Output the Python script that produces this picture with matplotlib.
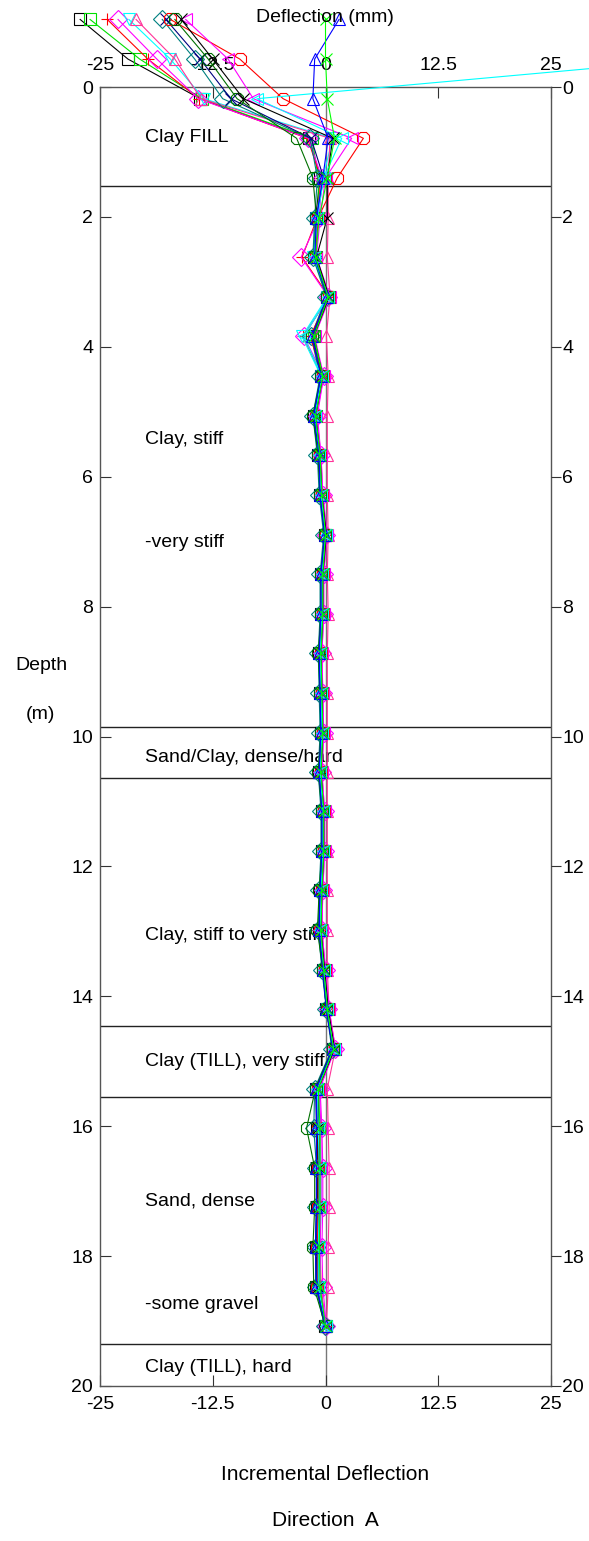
import matplotlib.pyplot as plt
import matplotlib.transforms as mtransforms

plt.rcParams['font.family'] = ['Liberation Sans', 'DejaVu Sans']
plt.rcParams['axes.unicode_minus'] = False

# === Data ===
# reading depths (m), top to bottom
DEPTHS = [-1.04, -0.43, 0.18, 0.79, 1.40, 2.01, 2.62, 3.23, 3.84, 4.45, 5.06, 5.67,
          6.28, 6.89, 7.50, 8.11, 8.72, 9.33, 9.94, 10.55, 11.15, 11.76, 12.37,
          12.98, 13.59, 14.20, 14.81, 15.42, 16.03, 16.64, 17.25, 17.86, 18.47, 19.08]

# incremental deflection (mm) per survey; first 5 values = upper readings, rest = depth profile
s_black_sq = [-27.2, -21.9, -13.9, -1.8, -0.6,
              -1.1, -1.3, 0.2, -1.5, -0.5, -1.3, -0.8, -0.6, -0.1, -0.5, -0.5, -0.7, -0.6, -0.5, -0.7,
              -0.4, -0.4, -0.6, -0.7, -0.3, 0.1, 0.8, -1.0, -0.9, -0.9, -0.9, -1.0, -1.0, -0.1]
s_green_sq = [-26.1, -20.6, -13.7, -1.5, -0.8,
              -0.8, -1.1, 0.4, -1.3, -0.3, -1.1, -0.6, -0.4, 0.1, -0.3, -0.3, -0.5, -0.4, -0.3, -0.5,
              -0.2, -0.2, -0.4, -0.5, -0.1, 0.3, 1.0, -0.8, -0.7, -0.7, -0.7, -0.8, -0.8, 0.1]
s_red_plus = [-24.2, -19.7, -14.0, -2.0, -0.5,
              -0.9, -2.6, 0.4, -2.5, -0.4, -1.0, -0.7, -0.4, 0.0, -0.4, -0.3, -0.6, -0.4, -0.3, -0.6,
              -0.3, -0.2, -0.5, -0.5, -0.2, 0.3, 1.0, -0.9, -0.7, -0.6, -0.6, -0.6, -0.5, 0.0]
s_mag_dia = [-23.0, -18.7, -14.1, -1.9, -0.4,
             -0.7, -2.7, 0.3, -2.4, -0.2, -0.9, -0.5, -0.3, 0.1, -0.2, -0.2, -0.4, -0.3, -0.2, -0.4,
             -0.1, -0.1, -0.3, -0.4, 0.0, 0.3, 1.0, -0.6, -0.4, -0.3, -0.3, -0.4, -0.3, 0.1]
s_cyan_v = [-21.8, -17.2, -13.5, 0.8, -0.3,
            -1.0, -1.4, 0.2, -2.6, -0.5, -1.2, -0.7, -0.5, 0.0, -0.4, -0.4, -0.6, -0.5, -0.4, -0.6,
            -0.3, -0.3, -0.5, -0.6, -0.2, 0.2, 0.9, -0.8, -0.6, -0.5, -0.5, -0.6, -0.6, 0.0]
s_pink_tri = [-21.0, -16.7, -13.8, 0.5, 0.3,
              0.3, 0.2, 0.5, 0.1, 0.3, 0.2, 0.2, 0.2, 0.3, 0.2, 0.3, 0.2, 0.2, 0.2, 0.2,
              0.2, 0.2, 0.2, 0.2, 0.2, 0.4, 1.1, 0.2, 0.3, 0.4, 0.4, 0.3, 0.3, 0.1]
s_teal_dia = [-18.1, -14.5, -11.4, -1.7, -0.9,
              -1.2, -1.4, 0.1, -1.6, -0.6, -1.4, -0.9, -0.7, -0.2, -0.6, -0.6, -0.8, -0.7, -0.6, -0.8,
              -0.5, -0.5, -0.7, -0.8, -0.4, 0.1, 0.7, -1.2, -1.3, -1.0, -1.0, -1.1, -1.1, -0.1]
s_navy_x = [-17.7, -13.9, -10.5, -1.6, -0.2,
            -1.0, -1.2, 0.3, -1.4, -0.5, -1.2, -0.8, -0.5, 0.0, -0.5, -0.4, -0.7, -0.5, -0.4, -0.7,
            -0.3, -0.3, -0.6, -0.7, -0.3, 0.1, 0.8, -1.1, -1.0, -1.0, -1.0, -1.1, -1.0, 0.0]
s_red_oct = [-17.2, -9.5, -4.7, 4.2, 1.3,
             -0.8, -1.1, 0.4, -1.7, -0.3, -1.1, -0.6, -0.4, 0.1, -0.3, -0.3, -0.5, -0.4, -0.3, -0.5,
             -0.2, -0.2, -0.4, -0.6, -0.1, 0.3, 1.0, -0.8, -0.8, -0.8, -0.8, -0.9, -0.9, 0.0]
s_dkgreen_oct = [-16.7, -13.0, -9.8, -3.2, -1.4,
                 -1.0, -1.3, 0.2, -1.5, -0.5, -1.4, -0.8, -0.6, -0.1, -0.5, -0.5, -0.8, -0.6, -0.5, -0.8,
                 -0.4, -0.4, -0.7, -0.9, -0.3, 0.2, 0.8, -1.1, -2.1, -1.2, -1.2, -1.4, -1.3, 0.0]
s_mag_left = [-15.5, -10.8, -8.0, 2.9, 0.0,
              -0.6, -1.0, 0.5, -1.2, -0.2, -1.0, -0.5, -0.3, 0.2, -0.2, -0.2, -0.4, -0.3, -0.2, -0.4,
              -0.1, -0.1, -0.3, -0.4, 0.0, 0.4, 1.1, -0.7, -0.5, -0.5, -0.5, -0.6, -0.6, 0.1]
s_black_x = [-16.0, -12.5, -9.1, 0.8, 0.2,
             0.2, -1.0, 0.4, -1.3, -0.3, -1.1, -0.6, -0.4, 0.1, -0.3, -0.3, -0.5, -0.4, -0.3, -0.5,
             -0.2, -0.2, -0.4, -0.5, -0.1, 0.3, 1.0, -0.8, -0.8, -0.7, -0.7, -0.8, -0.8, 0.0]
s_cyan_left = [60.0, 41.0, -7.6, 1.8, -0.2,
               -0.9, -1.3, 0.3, -2.4, -0.4, -1.2, -0.7, -0.5, 0.0, -0.4, -0.4, -0.6, -0.5, -0.4, -0.6,
               -0.3, -0.3, -0.5, -0.6, -0.2, 0.2, 0.9, -0.9, -0.8, -0.7, -0.7, -0.8, -0.8, 0.0]
s_blue_tri = [1.5, -1.2, -1.4, 0.3, -0.3,
              -1.0, -1.2, 0.2, -1.5, -0.5, -1.3, -0.7, -0.6, -0.1, -0.5, -0.5, -0.7, -0.6, -0.5, -0.7,
              -0.4, -0.4, -0.6, -0.7, -0.3, 0.1, 0.8, -1.0, -1.0, -1.0, -1.0, -1.1, -1.0, 0.0]
s_lime_x = [0.0, 0.0, 0.2, 1.0, 0.2,
            -0.7, -1.1, 0.3, -1.3, -0.3, -1.1, -0.6, -0.4, 0.0, -0.3, -0.3, -0.5, -0.4, -0.3, -0.5,
            -0.2, -0.2, -0.4, -0.5, -0.2, 0.2, 0.9, -0.8, -0.6, -0.6, -0.6, -0.7, -0.6, 0.0]

SERIES = [
    (s_black_sq, 'black', 's'),
    (s_green_sq, '#00e000', 's'),
    (s_red_plus, 'red', '+'),
    (s_mag_dia, 'magenta', 'D'),
    (s_cyan_v, 'cyan', 'v'),
    (s_pink_tri, '#ff3399', '^'),
    (s_teal_dia, '#008080', 'D'),
    (s_navy_x, '#000080', 'x'),
    (s_red_oct, 'red', '8'),
    (s_dkgreen_oct, '#007000', '8'),
    (s_mag_left, 'magenta', '<'),
    (s_black_x, 'black', 'x'),
    (s_cyan_left, 'cyan', '<'),
    (s_blue_tri, 'blue', '^'),
    (s_lime_x, '#00ff00', 'x'),
]

# soil layer boundaries (m) and descriptions
LAYER_BOUNDS = [1.52, 9.85, 10.64, 14.46, 15.55, 19.35]
LAYER_TEXT = ["Clay FILL", "Clay, stiff", "-very stiff", "Sand/Clay, dense/hard",
              "Clay, stiff to very stiff", "Clay (TILL), very stiff", "Sand, dense",
              "-some gravel", "Clay (TILL), hard"]
LAYER_TEXT_DEPTH = [0.77, 5.43, 7.02, 10.33, 13.06, 15.01, 17.15, 18.75, 19.72]

XTICKS = [-25, -12.5, 0, 12.5, 25]
XTICK_LABELS = ["-25", "-12.5", "0", "12.5", "25"]
YTICKS = [0, 2, 4, 6, 8, 10, 12, 14, 16, 18, 20]

FS = 14
W, H = 589, 1541

fig = plt.figure(figsize=(W / 100, H / 100), dpi=100)
ax = fig.add_axes([100 / W, 1 - 1386 / H, 451 / W, 1299 / H])
ax.set_xlim(-25, 25)
ax.set_ylim(20, 0)

for sp in ax.spines.values():
    sp.set_color('#555555')
    sp.set_linewidth(1)

# zero line and layer boundaries
ax.axvline(0, color='#777777', lw=1, zorder=1)
for d in LAYER_BOUNDS:
    ax.axhline(d, color='#222222', lw=1, zorder=1)
for txt, d in zip(LAYER_TEXT, LAYER_TEXT_DEPTH):
    ax.text(-20, d, txt, fontsize=FS, va='center', ha='left', zorder=2)

# surveys
for vals, col, mk in SERIES:
    size = 10 if mk == '8' else 9
    ax.plot(vals, DEPTHS, color=col, lw=0.8, marker=mk, ms=size, mfc='none',
            mec=col, mew=0.8, clip_on=False, zorder=3)

# x ticks top and bottom, pointing in
ax.set_xticks(XTICKS)
ax.set_xticklabels(XTICK_LABELS)
ax.tick_params(axis='x', direction='in', length=8, top=True, bottom=True,
               labeltop=True, labelbottom=True, labelsize=FS, pad=7, color='#333333')

# push top tick labels up a little
offset = mtransforms.ScaledTranslation(0, 2 / 72, fig.dpi_scale_trans)
for t in ax.xaxis.get_major_ticks():
    t.label2.set_transform(t.label2.get_transform() + offset)

# y ticks: left inward
ax.set_yticks(YTICKS)
ax.tick_params(axis='y', direction='in', length=8, left=True, right=False,
               labelsize=FS, pad=5, color='#333333')

# right side: ticks pointing out
ax2 = ax.twinx()
ax2.set_ylim(20, 0)
ax2.set_yticks(YTICKS)
ax2.tick_params(axis='y', direction='out', length=7, labelsize=FS, pad=1, color='#333333')
for sp in ax2.spines.values():
    sp.set_visible(False)

fig.text(325 / W, 1 - 18 / H, "Deflection (mm)", fontsize=FS, ha='center', va='center')
fig.text(41 / W, 1 - 665 / H, "Depth", fontsize=FS, ha='center', va='center')
fig.text(40 / W, 1 - 715 / H, "(m)", fontsize=FS, ha='center', va='center')
fig.text(325 / W, 1 - 1475 / H, "Incremental Deflection", fontsize=FS + 1, ha='center', va='center')
fig.text(325 / W, 1 - 1520 / H, "Direction  A", fontsize=FS + 1, ha='center', va='center')

fig.savefig("out.png", dpi=100)
